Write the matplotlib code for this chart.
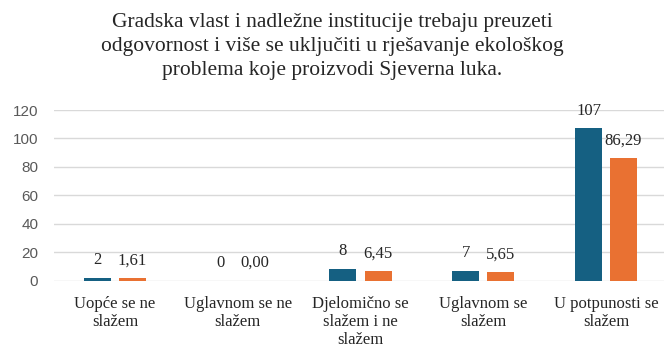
import matplotlib
matplotlib.use("Agg")
import matplotlib.pyplot as plt
import numpy as np

# Survey responses: counts (N) and percentages (%)
categories = [
    "Uopće se ne\nslažem",
    "Uglavnom se ne\nslažem",
    "Djelomično se\nslažem i ne\nslažem",
    "Uglavnom se\nslažem",
    "U potpunosti se\nslažem",
]
counts = [2, 0, 8, 7, 107]
percents = [1.61, 0.00, 6.45, 5.65, 86.29]
yticks = [0, 20, 40, 60, 80, 100, 120]

title = ("Gradska vlast i nadležne institucije trebaju preuzeti\n"
         "odgovornost i više se uključiti u rješavanje ekološkog\n"
         "problema koje proizvodi Sjeverna luka.")

blue = "#156082"
orange = "#E97132"
serif = "Liberation Serif"

W, H = 664, 349
fig = plt.figure(figsize=(W / 100, H / 100), dpi=100)
left_px, right_px = 53.6, 667.4
bottom_px, top_px = 280.5, 110.0
ax = fig.add_axes([left_px / W, 1 - bottom_px / H,
                   (right_px - left_px) / W, (bottom_px - top_px) / H])

x = np.arange(len(categories))
bw = 0.22
off = 0.1426
b1 = ax.bar(x - off, counts, bw, color=blue, zorder=3)
b2 = ax.bar(x + off, percents, bw, color=orange, zorder=3)

for rect, v in zip(b1, counts):
    ax.annotate(f"{v}", (rect.get_x() + rect.get_width() / 2, rect.get_height()),
                xytext=(0, 7), textcoords="offset points", ha="center", va="bottom",
                fontsize=12, family=serif, color="#262626")
for rect, v in zip(b2, percents):
    ax.annotate(f"{v:.2f}".replace(".", ","),
                (rect.get_x() + rect.get_width() / 2, rect.get_height()),
                xytext=(0, 7), textcoords="offset points", ha="center", va="bottom",
                fontsize=12, family=serif, color="#262626")

ax.set_xlim(-0.5, len(categories) - 0.5)
ax.set_ylim(0, 120)
ax.set_yticks(yticks)
ax.set_yticklabels([str(t) for t in yticks], fontsize=11, color="#595959",
                   family="Liberation Sans")
ax.set_xticks(x)
ax.set_xticklabels(categories, fontsize=12, family=serif, color="#262626",
                   linespacing=1.18)
ax.tick_params(axis="both", length=0)
ax.tick_params(axis="y", pad=11)
ax.tick_params(axis="x", pad=11)
ax.grid(axis="y", color="#D9D9D9", linewidth=1.0, zorder=0)
for s in ax.spines.values():
    s.set_visible(False)

fig.text(0.5, 1 - 13 / H, title, ha="center", va="top",
         fontsize=15.5, family=serif, color="#262626", linespacing=1.37)

fig.savefig("out.png", dpi=100)
